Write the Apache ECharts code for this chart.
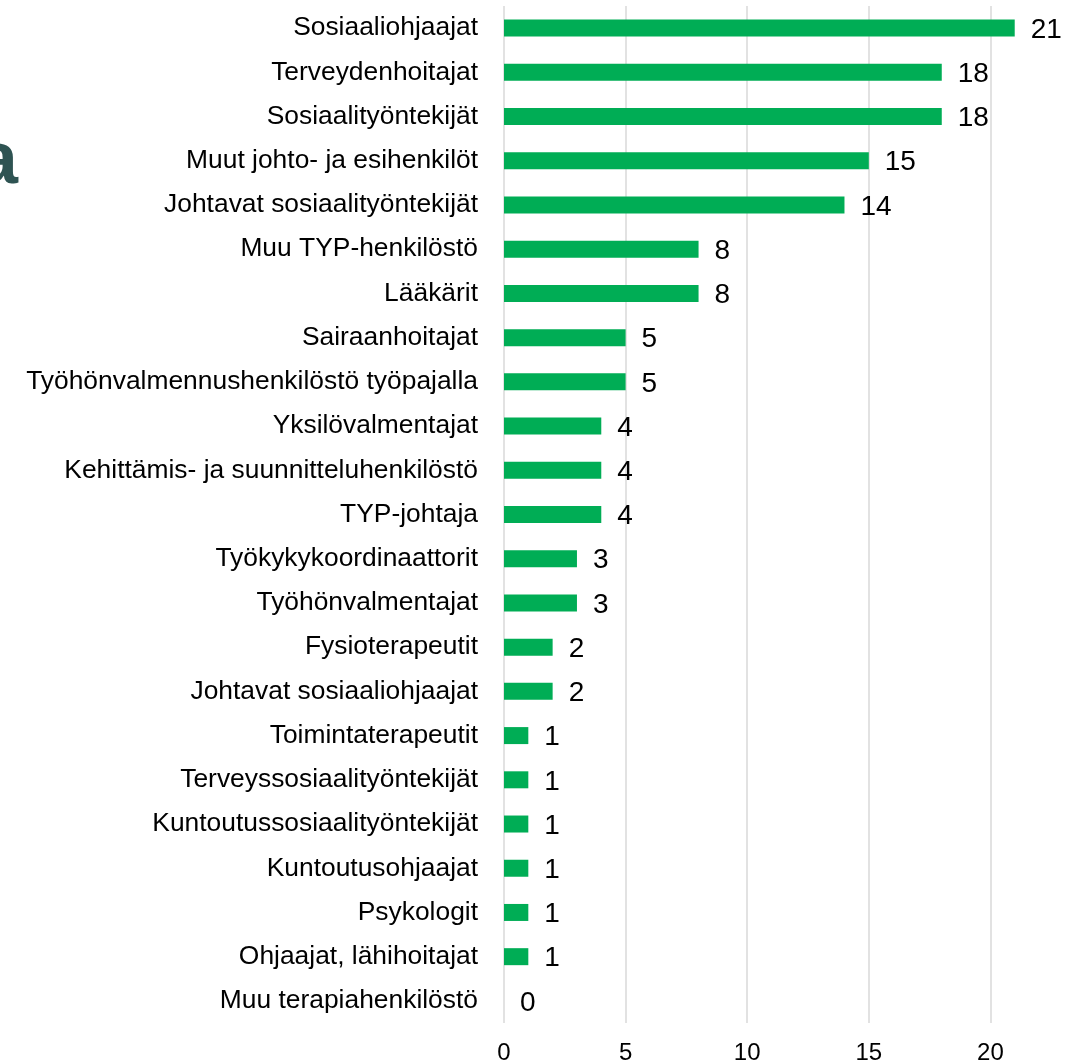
<!DOCTYPE html>
<html>
<head>
<meta charset="utf-8">
<script src="https://cdn.jsdelivr.net/npm/echarts@6/dist/echarts.min.js"></script>
<style>
  html, body { margin: 0; padding: 0; background: #fff; }
  #chart { width: 1081px; height: 1062px; }
</style>
</head>
<body>
<div id="chart"></div>
<script>
// top to bottom as shown
const categories = [
  'Sosiaaliohjaajat',
  'Terveydenhoitajat',
  'Sosiaalityöntekijät',
  'Muut johto- ja esihenkilöt',
  'Johtavat sosiaalityöntekijät',
  'Muu TYP-henkilöstö',
  'Lääkärit',
  'Sairaanhoitajat',
  'Työhönvalmennushenkilöstö työpajalla',
  'Yksilövalmentajat',
  'Kehittämis- ja suunnitteluhenkilöstö',
  'TYP-johtaja',
  'Työkykykoordinaattorit',
  'Työhönvalmentajat',
  'Fysioterapeutit',
  'Johtavat sosiaaliohjaajat',
  'Toimintaterapeutit',
  'Terveyssosiaalityöntekijät',
  'Kuntoutussosiaalityöntekijät',
  'Kuntoutusohjaajat',
  'Psykologit',
  'Ohjaajat, lähihoitajat',
  'Muu terapiahenkilöstö'
]
const values = [21, 18, 18, 15, 14, 8, 8, 5, 5, 4, 4, 4, 3, 3, 2, 2, 1, 1, 1, 1, 1, 1, 0]
const xTicks = [0, 5, 10, 15, 20, 25]

const chart = echarts.init(document.getElementById('chart'))

const option = {
  backgroundColor: '#fff',
  animation: false,
  grid: {
    left: 504,
    top: 6,
    width: 608,
    height: 1017,
    outerBoundsMode: 'none',
    containLabel: false
  },
  xAxis: {
    type: 'value',
    min: xTicks[0],
    max: xTicks[xTicks.length - 1],
    interval: xTicks[1] - xTicks[0],
    axisLine: { show: false },
    axisTick: { show: false },
    axisLabel: {
      color: '#000',
      fontFamily: 'Liberation Sans',
      fontSize: 24,
      margin: 18
    },
    splitLine: {
      show: true,
      lineStyle: { color: '#d9d9d9', width: 1.5 }
    }
  },
  yAxis: {
    type: 'category',
    inverse: true,
    data: categories,
    axisLine: { show: false },
    axisTick: { show: false },
    axisLabel: {
      color: '#000',
      fontFamily: 'Liberation Sans',
      fontSize: 26.4,
      margin: 26
    }
  },
  series: [
    {
      type: 'bar',
      data: values,
      barWidth: 17,
      itemStyle: { color: '#00ad55' },
      label: {
        show: true,
        position: 'right',
        distance: 16,
        offset: [0, 2],
        color: '#000',
        fontFamily: 'Liberation Sans',
        fontSize: 28
      }
    }
  ],
  graphic: [
    {
      // cut-off title letter at the left edge
      type: 'text',
      x: 18,
      y: 162,
      style: {
        text: 'a',
        align: 'right',
        verticalAlign: 'middle',
        fill: '#2e5352',
        fontFamily: 'Liberation Sans',
        fontWeight: 'bold',
        fontSize: 75
      }
    }
  ]
}

chart.setOption(option)
</script>
</body>
</html>
